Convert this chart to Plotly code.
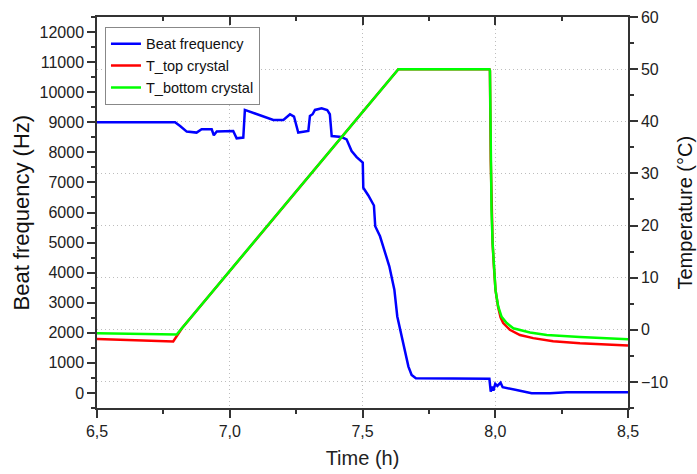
import plotly.graph_objects as go

# Beat frequency (Hz) vs time (h)
t_beat = [6.50, 6.794, 6.813, 6.838, 6.875, 6.894, 6.932, 6.940, 6.951, 7.013, 7.026, 7.051,
          7.057, 7.164, 7.202, 7.227, 7.242, 7.258, 7.296, 7.302, 7.312, 7.321, 7.346, 7.367,
          7.377, 7.384, 7.421, 7.440, 7.459, 7.478, 7.501, 7.503, 7.522, 7.543, 7.548, 7.566,
          7.601, 7.620, 7.631, 7.654, 7.673, 7.685, 7.701, 7.978, 7.983, 7.989, 7.993, 8.000,
          8.008, 8.020, 8.028, 8.080, 8.137, 8.206, 8.269, 8.500]
beat = [9000, 9000, 8877, 8690, 8657, 8767, 8767, 8567, 8690, 8710, 8467, 8490,
        9410, 9077, 9077, 9267, 9190, 8657, 8710, 9210, 9267, 9410, 9467, 9410,
        9267, 8543, 8510, 8433, 8043, 7843, 7657, 6823, 6567, 6233, 5543, 5210,
        4210, 3433, 2543, 1657, 877, 600, 490, 470, 43, 210, 77, 300,
        233, 343, 190, 100, -10, -10, 23, 23]

# Top crystal temperature (°C)
t_top = [6.50, 6.787, 6.820, 7.635, 7.978, 7.980, 7.983, 7.986, 7.990, 7.995, 8.001, 8.011,
         8.020, 8.030, 8.055, 8.093, 8.143, 8.218, 8.319, 8.500]
T_top = [-1.75, -2.25, 0.3, 50.0, 50.0, 49.7, 32.5, 22.9, 16.6, 12.1, 7.6, 4.3,
         2.4, 1.3, 0.0, -1.0, -1.6, -2.2, -2.6, -3.0]

# Bottom crystal temperature (°C)
t_bottom = [6.50, 6.79, 6.80, 7.635, 7.978, 7.980, 7.983, 7.986, 7.990, 7.995, 8.001, 8.011,
            8.024, 8.043, 8.068, 8.131, 8.194, 8.319, 8.500]
T_bottom = [-0.65, -0.9, -0.9, 50.0, 50.0, 49.7, 32.5, 22.9, 16.6, 12.1, 7.6, 4.5,
            2.5, 1.3, 0.3, -0.5, -1.0, -1.4, -1.8]

FONT = "Liberation Sans, Arial, sans-serif"
AX = "#333333"
GRID = "#bdbdbd"
DOT = "1px,3px"

fig = go.Figure()
fig.add_trace(go.Scatter(x=t_beat, y=beat, mode="lines", name="Beat frequency",
                         line=dict(color="#0000ff", width=2.5), yaxis="y"))
fig.add_trace(go.Scatter(x=t_top, y=T_top, mode="lines", name="T_top crystal",
                         line=dict(color="#ff0000", width=2.5), yaxis="y2"))
fig.add_trace(go.Scatter(x=t_bottom, y=T_bottom, mode="lines", name="T_bottom crystal",
                         line=dict(color="#00ff00", width=2.5), yaxis="y2"))
# helper trace so the top (mirror) axis is drawn
fig.add_trace(go.Scatter(x=[6.5], y=[None], xaxis="x2", yaxis="y", showlegend=False,
                         hoverinfo="skip", mode="lines"))

fig.update_layout(
    width=697, height=474,
    margin=dict(l=97, r=69, t=17, b=66, autoexpand=False),
    paper_bgcolor="white", plot_bgcolor="white",
    separators=",.",
    font=dict(family=FONT, size=16, color="#222"),
    showlegend=True,
    legend=dict(x=0.015, y=0.975, xanchor="left", yanchor="top",
                bordercolor="#888", borderwidth=1, bgcolor="white",
                entrywidth=135, entrywidthmode="pixels",
                font=dict(size=14.5, color="#111"), tracegroupgap=0),
    xaxis=dict(range=[6.5, 8.5], tick0=6.5, dtick=0.5, tickformat=".1f",
               ticks="outside", ticklen=8, tickwidth=1.5, tickcolor=AX,
               minor=dict(dtick=0.25, ticklen=4, tickwidth=1.5, tickcolor=AX, ticks="outside"),
               showline=True, linecolor=AX, linewidth=1.5, automargin=False,
               showgrid=True, gridcolor=GRID, griddash=DOT, gridwidth=1,
               zeroline=False, tickfont=dict(size=16),
               title=dict(text="Time (h)", font=dict(size=20), standoff=12)),
    xaxis2=dict(range=[6.5, 8.5], overlaying="x", side="top", anchor="y",
                tick0=6.5, dtick=0.5, ticks="inside", ticklen=8, tickwidth=1.5, tickcolor=AX,
                minor=dict(dtick=0.25, ticklen=4, tickwidth=1.5, tickcolor=AX, ticks="inside"),
                showticklabels=False, showline=True, linecolor=AX, linewidth=1.5,
                showgrid=False, zeroline=False, automargin=False),
    yaxis=dict(range=[-500, 12500], tick0=0, dtick=1000, tickformat="d",
               ticks="outside", ticklen=8, tickwidth=1.5, tickcolor=AX,
               minor=dict(dtick=500, ticklen=4, tickwidth=1.5, tickcolor=AX, ticks="outside"),
               showline=True, linecolor=AX, linewidth=1.5, automargin=False,
               showgrid=False, zeroline=False, tickfont=dict(size=16)),
    yaxis2=dict(range=[-15, 60], tick0=0, dtick=10, overlaying="y", side="right", anchor="x",
                ticks="outside", ticklen=8, tickwidth=1.5, tickcolor=AX,
                minor=dict(dtick=5, ticklen=4, tickwidth=1.5, tickcolor=AX, ticks="outside"),
                showline=True, linecolor=AX, linewidth=1.5, automargin=False,
                showgrid=True, gridcolor=GRID, griddash=DOT, gridwidth=1,
                zeroline=False, tickfont=dict(size=16)),
    annotations=[
        dict(text="Beat frequency (Hz)", xref="paper", yref="paper",
             x=-97 / 531 + 21 / 531, y=0.5, xanchor="center", yanchor="middle",
             textangle=-90, showarrow=False, font=dict(size=22, color="#111")),
        dict(text="Temperature (°C)", xref="paper", yref="paper",
             x=(684 - 97) / 531, y=0.5, xanchor="center", yanchor="middle",
             textangle=-90, showarrow=False, font=dict(size=20, color="#111")),
    ],
)

fig.write_html("out.html", config={"displayModeBar": False},
               post_script="document.body.style.margin='0';document.body.style.padding='0';")
